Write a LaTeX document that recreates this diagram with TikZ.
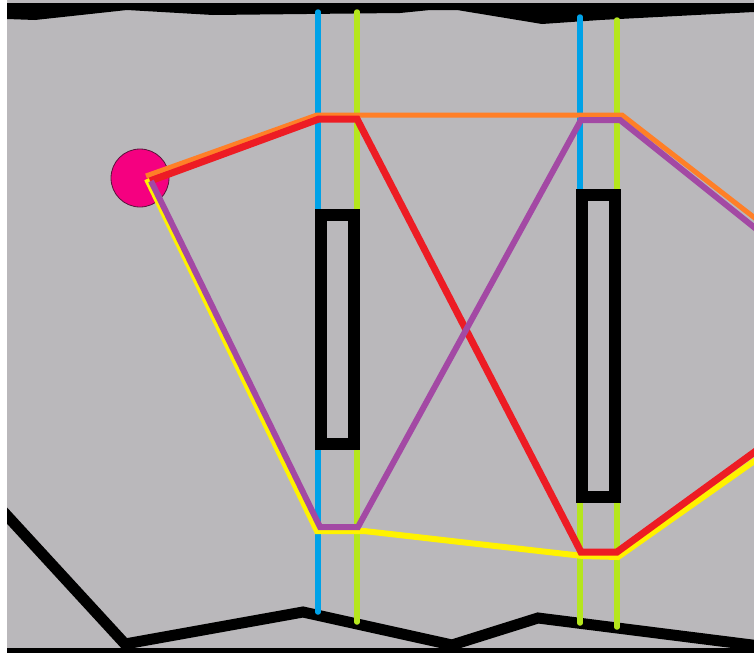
\documentclass[tikz,border=0pt]{standalone}
\definecolor{bggray}{RGB}{186,184,187}
\definecolor{pblue}{RGB}{0,162,232}
\definecolor{pgreen}{RGB}{181,230,29}
\definecolor{porange}{RGB}{255,127,39}
\definecolor{pred}{RGB}{237,28,36}
\definecolor{ppurple}{RGB}{163,73,164}
\definecolor{pyellow}{RGB}{255,242,0}
\definecolor{ppink}{RGB}{245,0,128}
\definecolor{pinkedge}{RGB}{90,20,60}
\tikzset{
  wall/.style={draw=black, line width=11pt},
  pole/.style={line width=5.5pt, line cap=round},
  slot/.style={draw=black, line width=12pt},
  route/.style={line width=#1},
}
\begin{document}
\begin{tikzpicture}[x=1pt,y=-1pt]
\useasboundingbox (0,0) rectangle (754,653);
\fill[white] (0,0) rectangle (754,653);
\begin{scope}
\clip (7,0) rectangle (754,653);
\fill[bggray] (7,0) rectangle (754,653);
% top black band
\fill[black] (7,3) -- (754,3) -- (754,12) -- (600,20) -- (542,24) -- (457,10) -- (430,10) -- (400,13) -- (213,15) -- (127,10) -- (35,20) -- (7,19) -- cycle;
% bottom bar and zigzag wall
\fill[black] (7,648) rectangle (754,653);
\coordinate (w0) at (0,508);
\coordinate (w1) at (125,644);
\coordinate (w2) at (303,612);
\coordinate (w3) at (452,645);
\coordinate (w4) at (538,618);
\coordinate (w5) at (760,646);
\draw[wall] (w0) -- (w1) -- (w2) -- (w3) -- (w4) -- (w5);
% poles
\draw[pole, pblue] (318,12) -- (318,212);
\draw[pole, pgreen] (357,12) -- (357,212);
\draw[pole, pblue] (318,444) -- (318,612);
\draw[pole, pgreen] (357,444) -- (357,622);
\draw[pole, pblue] (580,17) -- (580,193);
\draw[pole, pgreen] (617,20) -- (617,193);
\draw[pole, pgreen] (580,496) -- (580,623);
\draw[pole, pgreen] (617,496) -- (617,627);
% slots
\node[slot, rectangle, inner sep=0, minimum width=33pt, minimum height=229pt] (slotA) at (337.25,329.5) {};
\node[slot, rectangle, inner sep=0, minimum width=33pt, minimum height=302pt] (slotB) at (598.5,345.5) {};
% hub
\node[circle, draw=pinkedge, fill=ppink, line width=0.8pt, inner sep=0, minimum size=58pt] (hub) at (140,178) {};
% route coordinates
\coordinate (o0) at (146,176);
\coordinate (o1) at (317,115);
\coordinate (o2) at (622,115);
\coordinate (o3) at (760,222);
\coordinate (y0) at (147,179);
\coordinate (y1) at (317,531);
\coordinate (y2) at (364,531);
\coordinate (y3) at (583,556);
\coordinate (y4) at (618,557);
\coordinate (y5) at (760,457);
\coordinate (r0) at (150,181);
\coordinate (r1) at (319,119);
\coordinate (r2) at (357,119);
\coordinate (r3) at (581,552);
\coordinate (r4) at (617,552);
\coordinate (r5) at (760,448);
\coordinate (p0) at (151,181);
\coordinate (p1) at (320,527);
\coordinate (p2) at (358,527);
\coordinate (p3) at (581,120);
\coordinate (p4) at (620,120);
\coordinate (p5) at (760,232);
\draw[route=5pt, porange] (o0) -- (o1) -- (o2) -- (o3);
\draw[route=6pt, pyellow] (y0) -- (y1) -- (y2) -- (y3) -- (y4) -- (y5);
\draw[route=7pt, pred] (r0) -- (r1) -- (r2) -- (r3) -- (r4) -- (r5);
\draw[route=6pt, ppurple] (p0) -- (p1) -- (p2) -- (p3) -- (p4) -- (p5);
\end{scope}
\end{tikzpicture}
\end{document}
